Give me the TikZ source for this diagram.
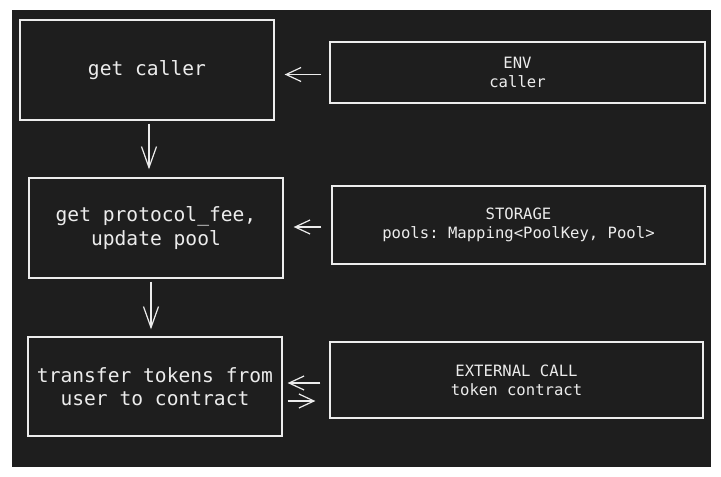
\documentclass[tikz,border=0pt]{standalone}
\usepackage{fontspec}
\setmonofont{DejaVu Sans Mono}
\usetikzlibrary{arrows.meta}
\definecolor{bg}{HTML}{1E1E1E}
\definecolor{ink}{HTML}{ECECEC}
\begin{document}
\begin{tikzpicture}[x=1pt,y=-1pt,
  box/.style={draw=ink, line width=1.3pt, text=ink, align=center, inner sep=0pt,
    font=\ttfamily\fontsize{19.6}{23.5}\selectfont},
  src/.style={box, font=\ttfamily\fontsize{15.6}{19}\selectfont},
  arr/.style={draw=ink, line width=1.2pt, -{Straight Barb[length=15pt,width=14pt]}},
  down/.style={arr, -{Straight Barb[length=21pt,width=15pt]}}]
\useasboundingbox (0,0) rectangle (721,477);
\fill[bg] (12,10) rectangle (711,467);
% steps
\node[box, minimum width=254pt, minimum height=100pt] (caller) at (147,70) {get caller};
\node[box, minimum width=254pt, minimum height=100pt] (fee) at (156,228) {get protocol\textunderscore fee,\\update pool};
\node[box, minimum width=254pt, minimum height=99pt] (transfer) at (155,386.5) {transfer tokens from\\user to contract};
% sources
\node[src, minimum width=375pt, minimum height=61pt] (env) at (517.5,72.5) {ENV\\caller};
\node[src, minimum width=373pt, minimum height=78pt] (storage) at (518.5,225) {STORAGE\\pools: Mapping<PoolKey, Pool>};
\node[src, minimum width=373pt, minimum height=76pt] (ext) at (516.5,380) {EXTERNAL CALL\\token contract};
% arrows
\draw[arr, shorten <=8pt, shorten >=10pt] ([yshift=-2pt]env.west) -- ([yshift=-2pt]env.west -| caller.east);
\draw[arr, shorten <=10pt, shorten >=10pt] ([yshift=-2pt]storage.west) -- ([yshift=-2pt]storage.west -| fee.east);
\draw[down, shorten <=3pt, shorten >=8pt] ([xshift=2pt]caller.south) -- ([xshift=2pt]caller.south |- fee.north);
\draw[down, shorten <=3pt, shorten >=7pt] ([xshift=-5pt]fee.south) -- ([xshift=-5pt]fee.south |- transfer.north);
\draw[arr, shorten <=9pt, shorten >=5pt] ([yshift=-3pt]ext.west) -- ([yshift=-3pt]ext.west -| transfer.east);
\draw[arr, shorten <=5pt, shorten >=14pt] ([yshift=-21pt]ext.west -| transfer.east) -- ([yshift=-21pt]ext.west);
\end{tikzpicture}
\end{document}
